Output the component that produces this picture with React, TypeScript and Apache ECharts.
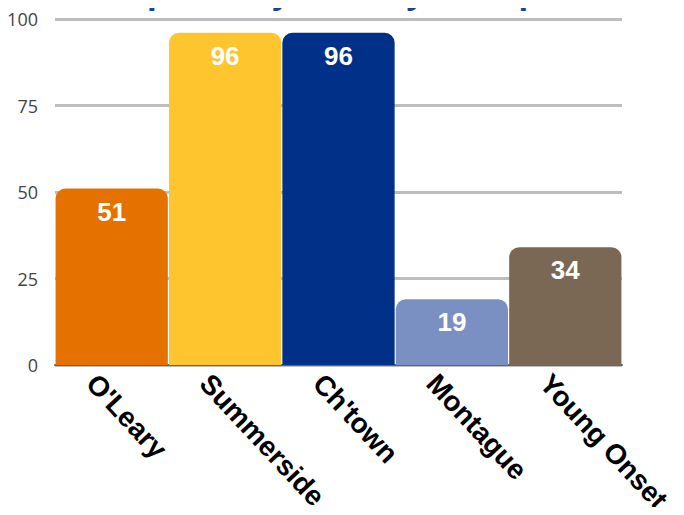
import React, { useEffect, useRef } from "react";
import * as echarts from "echarts";

const categories = ["O'Leary", "Summerside", "Ch'town", "Montague", "Young Onset"];
const values = [51, 96, 96, 19, 34];
const colors = ["#E57200", "#FFC52E", "#003087", "#7A8FC2", "#7A6855"];
const yTicks = [0, 25, 50, 75, 100];

export default function App() {
  const ref = useRef<HTMLDivElement>(null);
  useEffect(() => {
    const chart = echarts.init(ref.current!, null, { renderer: "svg" });
    chart.setOption({
      animation: false,
      title: {
        text: "Participants by Society Group",
        left: 285,
        textAlign: "center",
        top: -31,
        textStyle: { fontFamily: "Liberation Sans", fontSize: 35, fontWeight: "bold", color: "#1F3F95" },
      },
      grid: { left: 55, right: 62, top: 19, bottom: 150 },
      xAxis: {
        type: "category",
        data: categories,
        axisTick: { show: false },
        axisLine: { lineStyle: { color: "#666", width: 2 } },
        axisLabel: { show: false },
      },
      yAxis: {
        type: "value",
        min: yTicks[0],
        max: yTicks[yTicks.length - 1],
        interval: 25,
        axisLine: { show: false },
        axisTick: { show: false },
        splitLine: { lineStyle: { color: "#BDBDBD", width: 3 } },
        axisLabel: { fontFamily: "Open Sans", fontSize: 18, color: "#444", margin: 17 },
      },
      series: [
        {
          type: "bar",
          data: values.map((v, i) => ({ value: v, itemStyle: { color: colors[i] } })),
          barCategoryGap: "1%",
          itemStyle: { borderRadius: [10, 10, 0, 0] },
          label: {
            show: true,
            position: "insideTop",
            distance: 10,
            fontFamily: "Liberation Sans",
            fontWeight: "bold",
            fontSize: 26,
            color: "#fff",
          },
        },
      ],
    });
    const baseY = chart.convertToPixel({ yAxisIndex: 0 }, 0) as number;
    chart.setOption({
      graphic: categories.map((c) => {
        const cx = chart.convertToPixel({ xAxisIndex: 0 }, c) as number;
        return {
          type: "text",
          x: cx - 10,
          y: baseY + 4,
          rotation: (-47 * Math.PI) / 180,
          style: {
            text: c,
            fontFamily: "Liberation Sans",
            fontWeight: "bold",
            fontSize: 28,
            fill: "#000",
            align: "left",
            verticalAlign: "top",
          },
        };
      }),
    });
    return () => chart.dispose();
  }, []);
  return <div ref={ref} style={{ width: 684, height: 515, margin: -8 }} />;
}
